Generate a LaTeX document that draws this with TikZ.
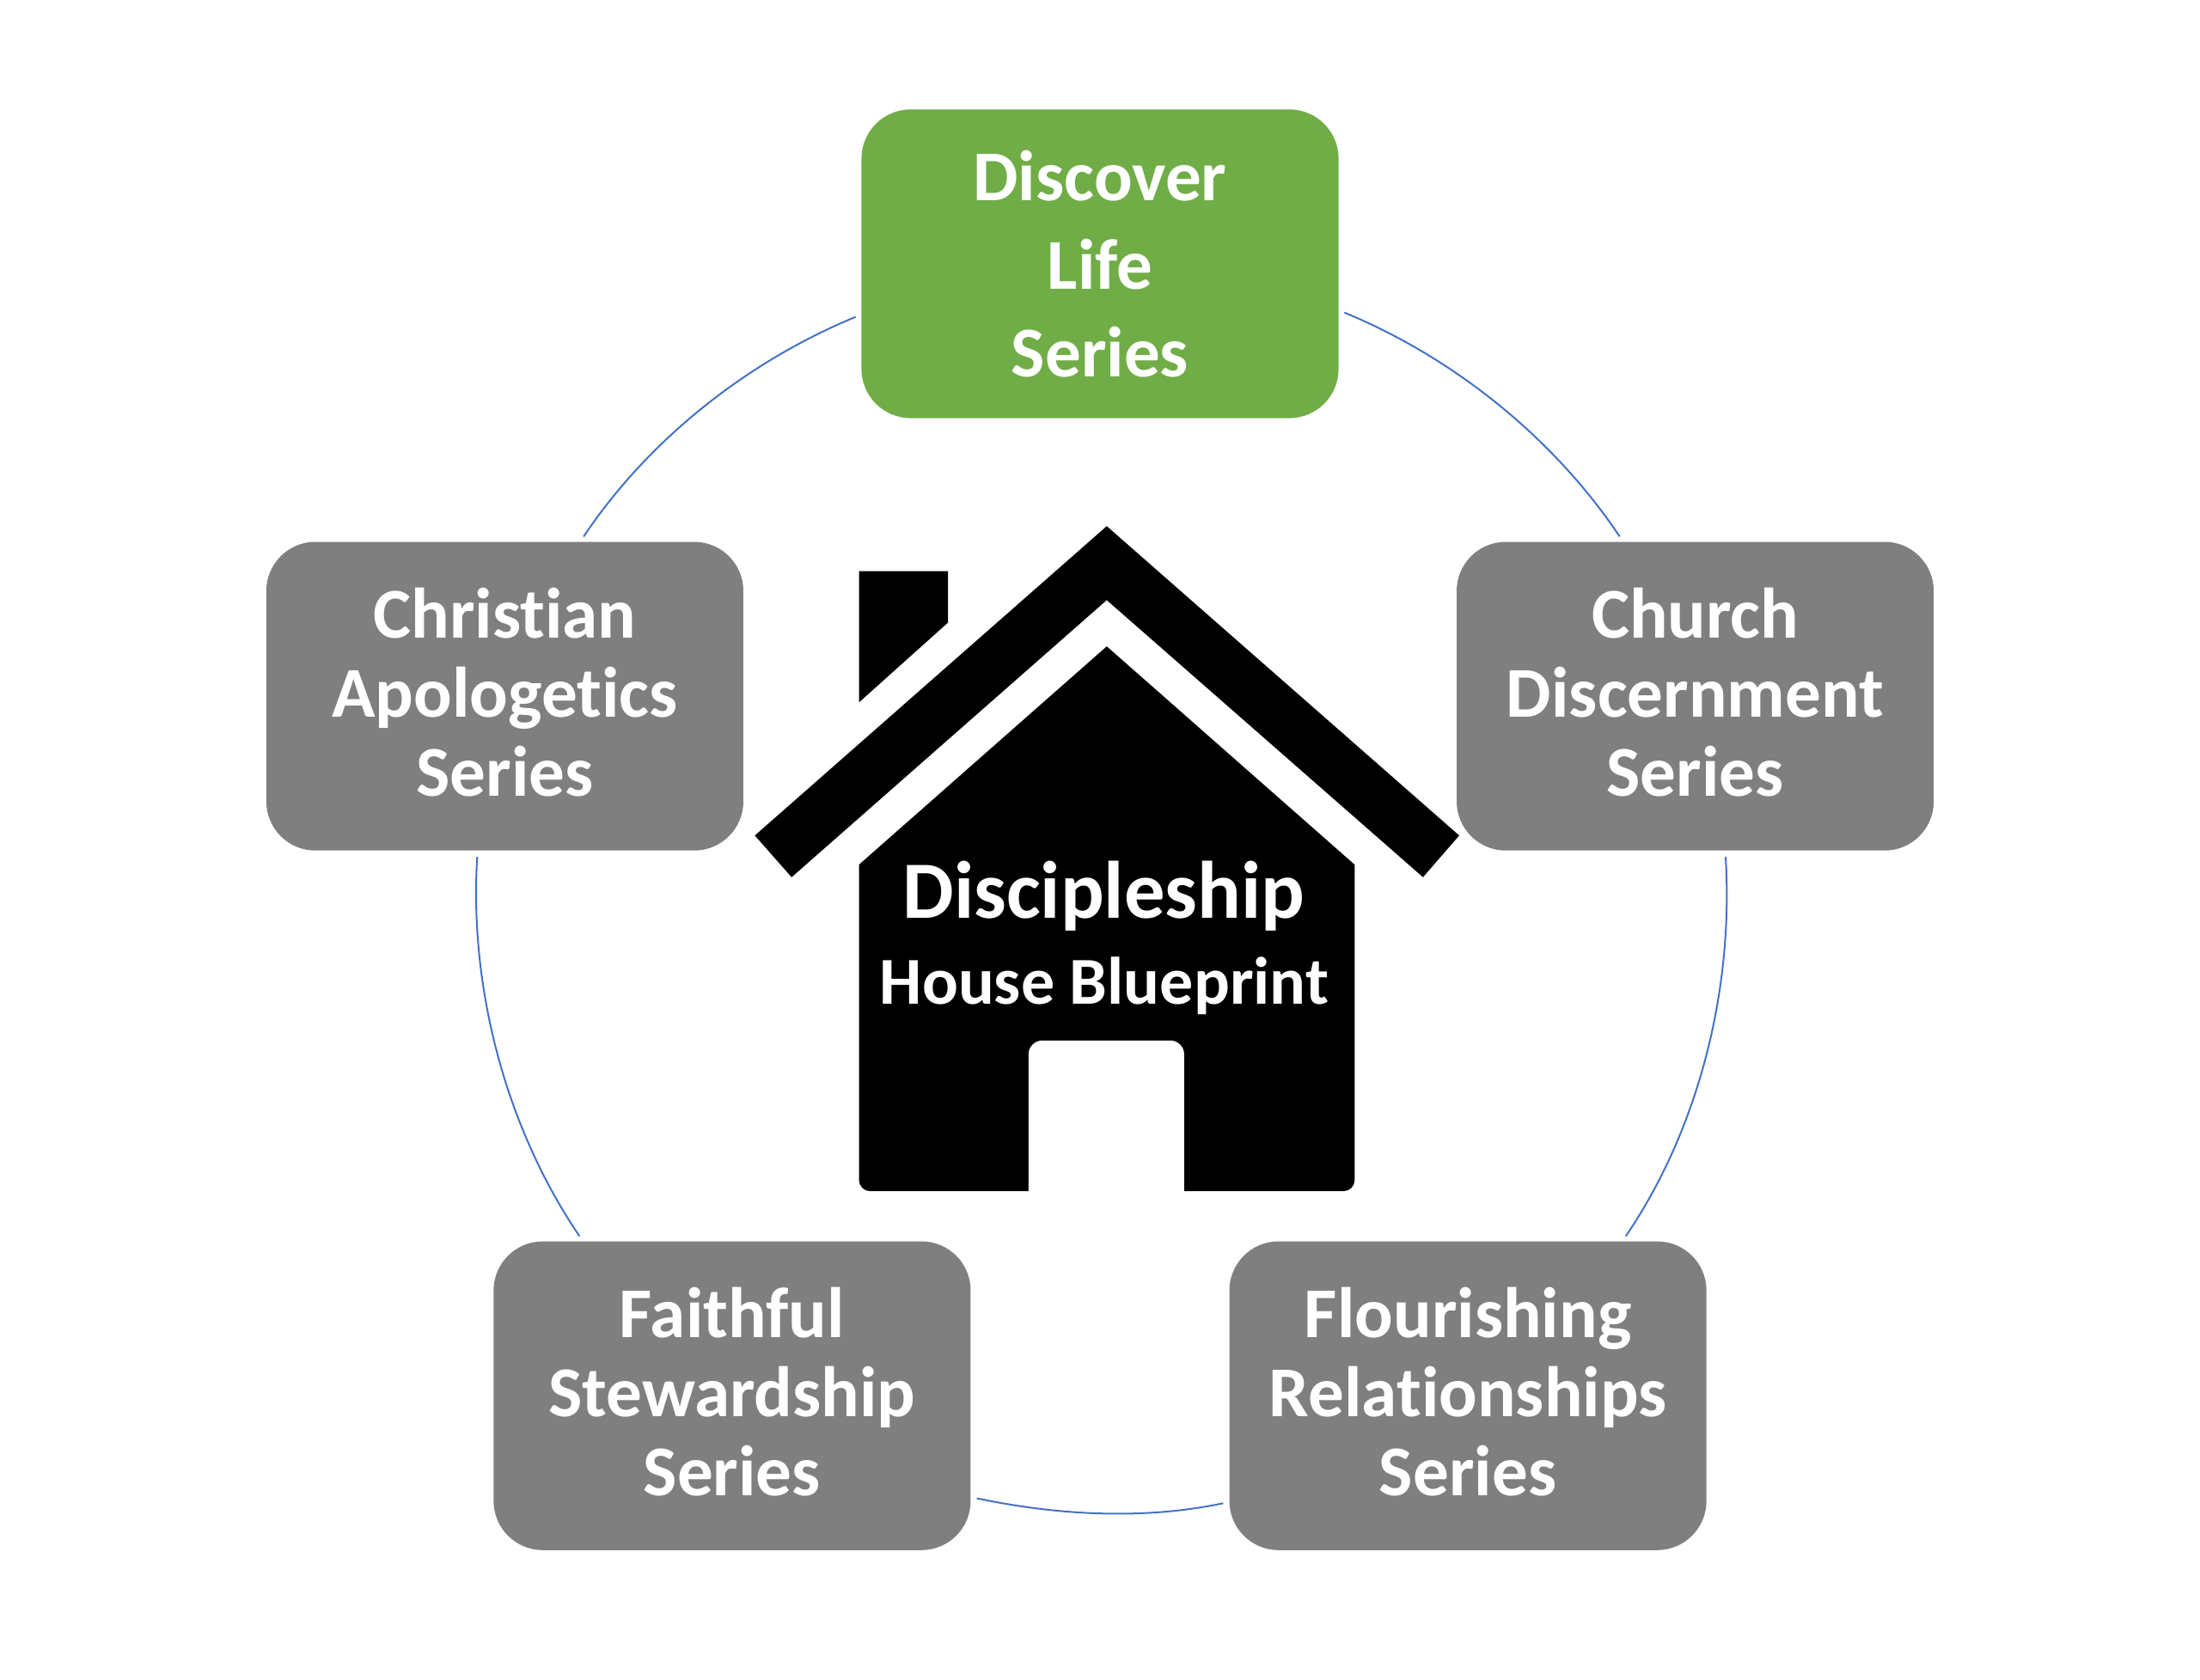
\documentclass[tikz,border=0pt]{standalone}
\usepackage{fontspec}
\setmainfont{Carlito}[Ligatures=NoCommon]
\definecolor{leafgreen}{HTML}{70AD47}
\definecolor{slategray}{HTML}{7F7F7F}
\definecolor{ringblue}{HTML}{4472C4}
\begin{document}
\begin{tikzpicture}[
        series/.style={rectangle,rounded corners=3.5mm,fill=slategray,text=white,minimum width=3.4cm,minimum height=2.2cm,inner sep=0pt,outer sep=0pt,align=center,text depth=0.06cm,font=\bfseries\fontsize{14.5}{16}\selectfont},
        ring/.style={draw=ringblue,line width=0.35pt,looseness=0.87,shorten <=0.45mm,shorten >=0.45mm},
        sign/.style={anchor=base,text=white,inner sep=0pt}]
                \useasboundingbox (0,0) rectangle (15.68,-11.97);
                \node[series,fill=leafgreen,text depth=0pt,font=\bfseries\fontsize{14.5}{17.9}\selectfont](DL) at (7.84,-1.88) {Discover\\Life\\Series};
                \node[series](CD) at (12.082,-4.962) {Church\\Discernment\\Series};
                \node[series](FR) at (10.462,-9.948) {Flourishing\\Relationships\\Series};
                \node[series](FS) at (5.218,-9.948) {Faithful\\Stewardship\\Series};
                \node[series](CA) at (3.598,-4.962) {Christian\\Apologetics\\Series};
                \draw[ring] (DL.-11.2) to[out=-22.41,in=123.75] (CD.115.88);
                \draw[ring] (CD.-79.21) to[out=-86.42,in=55.78] (FR.45.88);
                \draw[ring] (FR.-156.04) to[out=-168.08,in=-11.92] (FS.-23.96);
                \draw[ring] (FS.134.12) to[out=124.22,in=-93.58] (CA.-100.79);
                \draw[ring] (CA.64.12) to[out=56.25,in=202.41] (DL.-168.8);
                \fill (7.888,-3.75) -- (10.40,-5.955) -- (10.142,-6.252) -- (7.888,-4.277) -- (5.642,-6.252) -- (5.38,-5.955) -- cycle;
                \fill (6.122,-4.07) -- (6.757,-4.07) -- (6.757,-4.437) -- (6.122,-5.006) -- cycle;
                \fill (6.122,-6.7) -- (6.122,-6.163) -- (7.888,-4.607) -- (9.655,-6.163) -- (9.655,-6.7) -- cycle
                    [rounded corners=0.8mm] (6.122,-8.49) rectangle (9.655,-6.5);
                \fill[white,rounded corners=1mm] (7.33,-7.416) rectangle (8.44,-8.6);
                \node[sign,font=\bfseries\fontsize{16.5}{19}\selectfont](DS) at (7.867,-6.547) {Discipleship};
                \node[sign,font=\bfseries\fontsize{13.6}{16}\selectfont](HB) at (7.87,-7.154) {House Blueprint};
            \end{tikzpicture}
\end{document}
